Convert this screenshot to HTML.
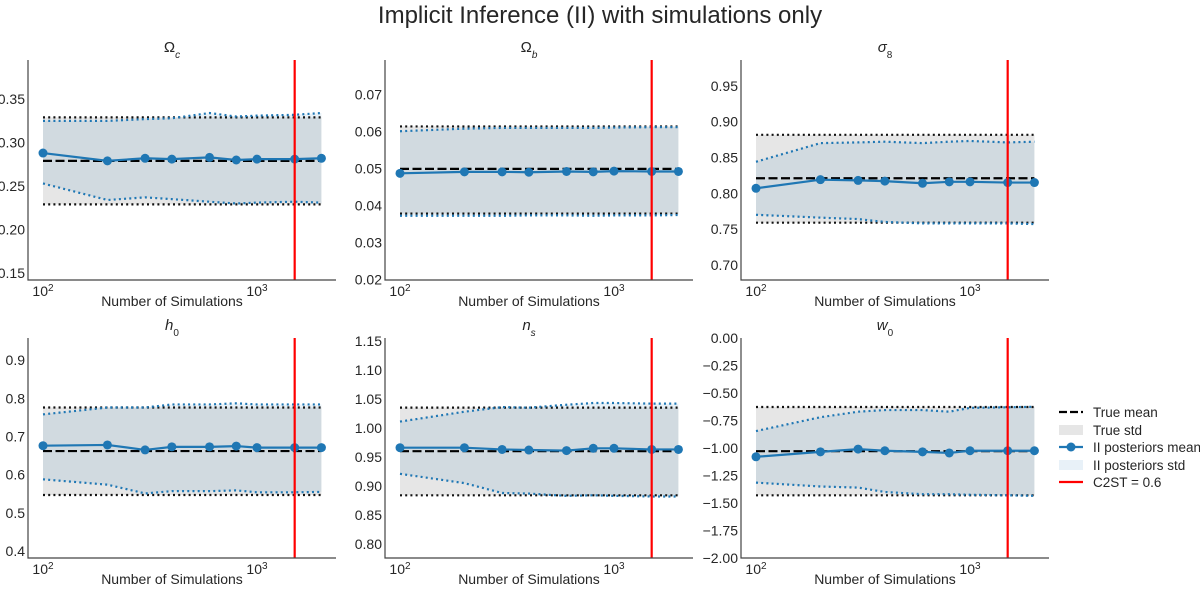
<!DOCTYPE html>
<html><head><meta charset="utf-8"><style>
body{margin:0;background:#fff;font-family:"Liberation Sans","DejaVu Sans",sans-serif;}
svg text{font-family:"Liberation Sans","DejaVu Sans",sans-serif;fill:#262626;}
</style></head><body>
<svg id="fig" width="1200" height="587" xmlns="http://www.w3.org/2000/svg">
<text x="600" y="23" text-anchor="middle" font-size="24">Implicit Inference (II) with simulations only</text>
</svg>
<script>
const sims=[100,200,300,400,600,800,1000,1500,2000];
const names=['omega-c','omega-b','sigma-8','h-0','n-s','w-0'];
const trueMean=[0.279,0.0499,0.821,0.662,0.960,-1.029];
const trueLo=[0.229,0.0378,0.759,0.547,0.884,-1.43];
const trueHi=[0.329,0.0614,0.8816,0.776,1.035,-0.627];
const postMean=[
[0.288,0.279,0.282,0.281,0.283,0.280,0.281,0.281,0.282],
[0.0487,0.0491,0.0491,0.0490,0.0492,0.0491,0.0493,0.0492,0.0492],
[0.807,0.819,0.818,0.817,0.814,0.816,0.816,0.815,0.815],
[0.676,0.678,0.665,0.673,0.673,0.675,0.671,0.671,0.671],
[0.966,0.966,0.963,0.962,0.961,0.965,0.965,0.963,0.963],
[-1.08,-1.035,-1.01,-1.025,-1.035,-1.045,-1.025,-1.025,-1.025]];
const postHi=[
[0.325,0.325,0.327,0.328,0.334,0.330,0.331,0.332,0.334],
[0.0601,0.0608,0.0610,0.0610,0.0610,0.0610,0.0611,0.0612,0.0612],
[0.844,0.870,0.871,0.872,0.870,0.872,0.873,0.871,0.872],
[0.758,0.776,0.776,0.784,0.784,0.787,0.784,0.784,0.784],
[1.011,1.028,1.036,1.035,1.040,1.043,1.043,1.042,1.042],
[-0.846,-0.72,-0.67,-0.655,-0.655,-0.67,-0.635,-0.63,-0.625]];
const postLo=[
[0.253,0.234,0.237,0.235,0.232,0.230,0.231,0.232,0.231],
[0.0372,0.0372,0.0372,0.0373,0.0373,0.0372,0.0373,0.0373,0.0374],
[0.770,0.766,0.764,0.760,0.758,0.758,0.758,0.758,0.757],
[0.588,0.574,0.551,0.557,0.557,0.559,0.554,0.554,0.555],
[0.921,0.905,0.888,0.887,0.883,0.884,0.883,0.882,0.882],
[-1.315,-1.35,-1.36,-1.40,-1.42,-1.42,-1.425,-1.43,-1.435]];
const yMin=[0.142,0.0198,0.679,0.382,0.776,-2.0];
const yMax=[0.395,0.0794,0.986,0.958,1.155,0.0];
const yTicks=[
['0.15','0.20','0.25','0.30','0.35'],
['0.02','0.03','0.04','0.05','0.06','0.07'],
['0.70','0.75','0.80','0.85','0.90','0.95'],
['0.4','0.5','0.6','0.7','0.8','0.9'],
['0.80','0.85','0.90','0.95','1.00','1.05','1.10','1.15'],
['\u22122.00','\u22121.75','\u22121.50','\u22121.25','\u22121.00','\u22120.75','\u22120.50','\u22120.25','0.00']];
const titles=['Ω<tspan font-style="italic" baseline-shift="sub" font-size="10">c</tspan>','Ω<tspan font-style="italic" baseline-shift="sub" font-size="10">b</tspan>','<tspan font-style="italic">σ</tspan><tspan baseline-shift="sub" font-size="10">8</tspan>','<tspan font-style="italic">h</tspan><tspan baseline-shift="sub" font-size="10">0</tspan>','<tspan font-style="italic">n</tspan><tspan font-style="italic" baseline-shift="sub" font-size="10">s</tspan>','<tspan font-style="italic">w</tspan><tspan baseline-shift="sub" font-size="10">0</tspan>'];
const c2st=1500;
const NS='http://www.w3.org/2000/svg';
const fig=document.getElementById('fig');
function mk(tag,attrs,parent){const e=document.createElementNS(NS,tag);for(const k in attrs)e.setAttribute(k,attrs[k]);parent.appendChild(e);return e;}
const lefts=[28,385,741], tops=[60,338], H=220, W=308;
for(let p=0;p<6;p++){
  const L=lefts[p%3], T=tops[Math.floor(p/3)], B=T+H;
  const g=mk('g',{},fig);
  
  
  const X=n=>L+15+214*Math.log10(n/100);
  const Y=v=>B-(v-yMin[p])/(yMax[p]-yMin[p])*H;
  const band=mk('rect',{x:X(100),y:Y(trueHi[p]),width:X(2000)-X(100),height:Y(trueLo[p])-Y(trueHi[p]),fill:'#e6e6e6'},g);
  
  
  let d='M'+sims.map((s,i)=>X(s)+','+Y(postHi[p][i])).join(' L')+' L'+sims.slice().reverse().map((s,j)=>{const i=sims.length-1-j;return X(s)+','+Y(postLo[p][i]);}).join(' L')+'Z';
  const pb=mk('path',{d:d,fill:'rgba(31,119,180,0.1)'},g);
  
  
  [trueHi[p],trueLo[p]].forEach(v=>{const l=mk('line',{x1:X(100),x2:X(2000),y1:Y(v),y2:Y(v),stroke:'#111','stroke-width':2.2,'stroke-dasharray':'2 3.2'},g);
    
    });
  [postHi[p],postLo[p]].forEach(arr=>{const l=mk('polyline',{points:sims.map((s,i)=>X(s)+','+Y(arr[i])).join(' '),fill:'none',stroke:'#1f77b4','stroke-width':2.2,'stroke-dasharray':'2 3.2'},g);
    
    });
  const tm=mk('line',{x1:X(100),x2:X(2000),y1:Y(trueMean[p]),y2:Y(trueMean[p]),stroke:'#000','stroke-width':2.2,'stroke-dasharray':'9 3.5'},g);
  
  
  const pm=mk('polyline',{points:sims.map((s,i)=>X(s)+','+Y(postMean[p][i])).join(' '),fill:'none',stroke:'#1f77b4','stroke-width':2.2},g);
  
  
  sims.forEach((s,i)=>{const c=mk('circle',{cx:X(s),cy:Y(postMean[p][i]),r:4.5,fill:'#1f77b4'},g);
    
    });
  const rl=mk('line',{x1:X(c2st),x2:X(c2st),y1:T,y2:B,stroke:'#ff0000','stroke-width':2.2},g);
  
  
  const ax=mk('path',{d:`M${L},${T} L${L},${B} L${L+W},${B}`,fill:'none',stroke:'#444','stroke-width':1.2},g);
  
  
  yTicks[p].forEach(t=>{const v=parseFloat(t.replace('\u2212','-'));const tx=mk('text',{x:L-3,y:Y(v)+5,'text-anchor':'end','font-size':14},g);tx.textContent=t;
    
    });
  [[100,'2'],[1000,'3']].forEach(([v,e])=>{const tx=mk('text',{x:X(v),y:B+16,'text-anchor':'middle','font-size':14},g);tx.innerHTML='10<tspan baseline-shift="super" font-size="10">'+e+'</tspan>';
    
    });
  const xl=mk('text',{x:L+W/2-10,y:B+26,'text-anchor':'middle','font-size':14},g);xl.textContent='Number of Simulations';
  
  
  const tt=mk('text',{x:L+W/2-10,y:T-8,'text-anchor':'middle','font-size':15},g);tt.innerHTML=titles[p];
  
  
}
const lg=mk('g',{},fig);


const ly=[412,430,447,465,482];
const labels=['True mean','True std','II posteriors mean','II posteriors std','C2ST = 0.6'];
ly.forEach((y,i)=>{
  if(i===0)mk('line',{x1:1059,x2:1083,y1:y,y2:y,stroke:'#000','stroke-width':2.2,'stroke-dasharray':'8 3'},lg);
  if(i===1)mk('rect',{x:1059,y:y-5,width:24,height:10,fill:'#e6e6e6'},lg);
  if(i===2){mk('line',{x1:1059,x2:1083,y1:y,y2:y,stroke:'#1f77b4','stroke-width':2.2},lg);mk('circle',{cx:1071,cy:y,r:4.5,fill:'#1f77b4'},lg);}
  if(i===3)mk('rect',{x:1059,y:y-5,width:24,height:10,fill:'#e8f1f8'},lg);
  if(i===4)mk('line',{x1:1059,x2:1083,y1:y,y2:y,stroke:'#ff0000','stroke-width':2.2},lg);
  const t=mk('text',{x:1093,y:y+5,'font-size':13.5},lg);t.textContent=labels[i];
  
  
});
</script>
</body></html>
